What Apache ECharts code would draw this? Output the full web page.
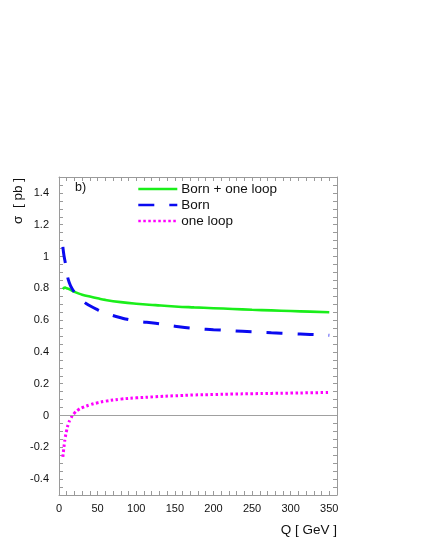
<!DOCTYPE html>
<html>
<head>
<meta charset="utf-8">
<style>
html,body{margin:0;padding:0;background:#fff;}
#chart{width:429px;height:555px;}
</style>
<script src="https://cdn.jsdelivr.net/npm/echarts@6/dist/echarts.min.js"></script>
</head>
<body>
<div id="chart"></div>
<script>
// Q values [GeV]
var qValues = [5, 6, 7, 8, 10, 12, 15, 20, 25, 30, 40, 50, 60, 80, 100, 125, 150, 175, 200, 225, 250, 275, 300, 325, 350];
// Born + one loop
var totalValues = [0.795, 0.800, 0.803, 0.804, 0.800, 0.797, 0.790, 0.778, 0.768, 0.760, 0.748, 0.737, 0.727, 0.713, 0.703, 0.694, 0.686, 0.680, 0.675, 0.670, 0.665, 0.661, 0.657, 0.653, 0.649];
// Born
var bornValues = [1.060, 1.020, 0.990, 0.965, 0.905, 0.855, 0.815, 0.775, 0.745, 0.722, 0.690, 0.665, 0.645, 0.615, 0.595, 0.580, 0.562, 0.548, 0.540, 0.533, 0.526, 0.520, 0.515, 0.510, 0.504];
// one loop
var loopValues = [-0.260, -0.215, -0.175, -0.140, -0.091, -0.055, -0.020, 0.015, 0.036, 0.049, 0.067, 0.080, 0.090, 0.103, 0.111, 0.118, 0.124, 0.129, 0.132, 0.135, 0.137, 0.139, 0.141, 0.143, 0.145];
var seriesNames = ['Born + one loop', 'Born', 'one loop'];
var yLabelValues = [-0.4, -0.2, 0, 0.2, 0.4, 0.6, 0.8, 1, 1.2, 1.4];
var xLabelValues = [0, 50, 100, 150, 200, 250, 300, 350];

function pairs(ys) { return qValues.map(function (q, i) { return [q, ys[i]]; }); }

var FONT = '"Liberation Sans", Arial, Helvetica, sans-serif';
var GREY = '#9a9a9a';

function xAxisCfg(pos, showLabel) {
  return {
    type: 'value', position: pos, min: 0, max: 360, interval: 10,
    axisLine: { show: true, onZero: false, lineStyle: { color: GREY, width: 1 } },
    axisTick: { show: true, inside: true, length: 4, lineStyle: { color: GREY } },
    splitLine: { show: false },
    axisLabel: {
      show: showLabel, margin: 8, color: '#111', fontSize: 11, fontFamily: FONT,
      formatter: function (v) { return xLabelValues.indexOf(v) >= 0 ? String(v) : ''; }
    }
  };
}
function yAxisCfg(pos, showLabel) {
  return {
    type: 'value', position: pos, min: -0.5, max: 1.5, interval: 0.05,
    axisLine: { show: true, onZero: false, lineStyle: { color: GREY, width: 1 } },
    axisTick: { show: true, inside: true, length: 4, lineStyle: { color: GREY } },
    splitLine: { show: false },
    axisLabel: {
      show: showLabel, margin: 10, color: '#111', fontSize: 11, fontFamily: FONT,
      formatter: function (v) {
        for (var i = 0; i < yLabelValues.length; i++) {
          if (Math.abs(v - yLabelValues[i]) < 1e-6) return String(yLabelValues[i]);
        }
        return '';
      }
    }
  };
}

var chart = echarts.init(document.getElementById('chart'), null, { renderer: 'canvas' });
chart.setOption({
  backgroundColor: '#fff',
  animation: false,
  grid: { left: 59, right: 92, top: 177, bottom: 60, containLabel: false },
  xAxis: [xAxisCfg('bottom', true), xAxisCfg('top', false)],
  yAxis: [yAxisCfg('left', true), yAxisCfg('right', false)],
  legend: {
    orient: 'vertical', left: 137, top: 182, padding: 0, itemWidth: 39, itemHeight: 14, itemGap: 2,
    itemStyle: { opacity: 0 },
    lineStyle: { width: 2.6 },
    textStyle: { color: '#111', fontSize: 13.5, fontFamily: FONT, padding: [0, 0, 0, -1] },
    data: seriesNames
  },
  series: [
    {
      name: seriesNames[0], type: 'line', data: pairs(totalValues), symbol: 'none', smooth: true,
      lineStyle: { color: '#1aee1a', width: 2.6 }, itemStyle: { color: '#1aee1a' },
      markLine: {
        silent: true, symbol: 'none', label: { show: false },
        lineStyle: { color: '#a0a0a0', width: 1, type: 'solid' },
        data: [{ yAxis: 0 }]
      }
    },
    {
      name: seriesNames[1], type: 'line', data: pairs(bornValues), symbol: 'none', smooth: true,
      lineStyle: { color: '#0a0af0', width: 3, type: [16, 15] }, itemStyle: { color: '#0a0af0' }
    },
    {
      name: seriesNames[2], type: 'line', data: pairs(loopValues), symbol: 'none', smooth: true,
      lineStyle: { color: '#ff00ff', width: 3, type: [2.5, 2.5] }, itemStyle: { color: '#ff00ff' }
    }
  ],
  graphic: [
    { type: 'text', x: 18, y: 201, rotation: Math.PI / 2,
      style: { text: 'σ  [ pb ]', fill: '#111', font: '13.5px ' + FONT, textAlign: 'center', textVerticalAlign: 'middle' } },
    { type: 'text', x: 337, y: 530,
      style: { text: 'Q [ GeV ]', fill: '#111', font: '13.5px ' + FONT, textAlign: 'right', textVerticalAlign: 'middle' } },
    { type: 'text', x: 75, y: 188,
      style: { text: 'b)', fill: '#111', font: '12.5px ' + FONT, textAlign: 'left', textVerticalAlign: 'middle' } }
  ]
});
</script>
</body>
</html>
